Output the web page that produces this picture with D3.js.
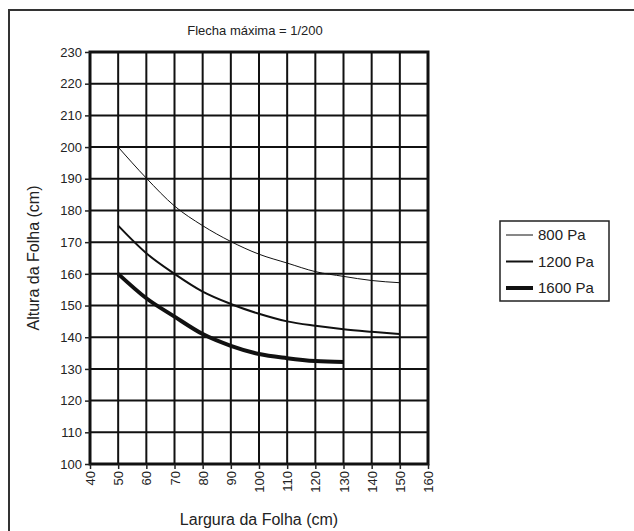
<!DOCTYPE html>
<html>
<head>
<meta charset="utf-8">
<script src="https://cdn.jsdelivr.net/npm/d3@7"></script>
<style>
  body { margin: 0; background: #fff; }
  text { font-family: "Liberation Sans", Arial, sans-serif; fill: #222; }
</style>
</head>
<body>
<div id="visualization"></div>
<script>
const widths = [50, 60, 70, 80, 90, 100, 110, 120, 130, 140, 150];
const pa800 = [200, 190.2, 181.4, 175.2, 170.2, 166.2, 163.4, 160.7, 159.2, 157.9, 157.2];
const pa1200 = [175.2, 166.5, 160, 154.4, 150.5, 147.4, 145, 143.6, 142.5, 141.7, 141];
const pa1600 = [160, 152.3, 146.5, 141, 137.3, 134.7, 133.4, 132.5, 132.2];
const seriesNames = ["800 Pa", "1200 Pa", "1600 Pa"];
const xTicks = [40, 50, 60, 70, 80, 90, 100, 110, 120, 130, 140, 150, 160];
const yTicks = [100, 110, 120, 130, 140, 150, 160, 170, 180, 190, 200, 210, 220, 230];

function buildChart() {
  const svgWidth = 634;
  const svgHeight = 531;

  const svg = d3
    .select("#visualization")
    .append("svg")
    .attr("width", svgWidth)
    .attr("height", svgHeight);

  // outer frame, only top and left edges fall inside the picture
  svg.append("rect")
    .attr("x", 9).attr("y", 10)
    .attr("width", 700).attr("height", 600)
    .attr("fill", "none")
    .attr("stroke", "#333")
    .attr("stroke-width", 2);

  const plot = { left: 90, right: 428, top: 52, bottom: 464 };

  const xScale = d3.scaleLinear().domain([40, 160]).range([plot.left, plot.right]);
  const yScale = d3.scaleLinear().domain([100, 230]).range([plot.bottom, plot.top]);

  // grid
  svg.append("g")
    .selectAll("line")
    .data(xTicks.slice(1, -1))
    .join("line")
    .attr("x1", d => xScale(d)).attr("x2", d => xScale(d))
    .attr("y1", plot.top).attr("y2", plot.bottom)
    .attr("stroke", "#111").attr("stroke-width", 2);

  svg.append("g")
    .selectAll("line")
    .data(yTicks.slice(1, -1))
    .join("line")
    .attr("x1", plot.left).attr("x2", plot.right)
    .attr("y1", d => yScale(d)).attr("y2", d => yScale(d))
    .attr("stroke", "#111").attr("stroke-width", 2);

  svg.append("rect")
    .attr("x", plot.left).attr("y", plot.top)
    .attr("width", plot.right - plot.left)
    .attr("height", plot.bottom - plot.top)
    .attr("fill", "none")
    .attr("stroke", "#111")
    .attr("stroke-width", 3);

  // axes
  const gy = svg.append("g")
    .attr("transform", `translate(${plot.left},0)`)
    .call(d3.axisLeft(yScale).tickValues(yTicks).tickSize(5).tickPadding(3));
  gy.select(".domain").remove();
  gy.selectAll(".tick line").attr("stroke", "#222").attr("stroke-width", 1.5);
  gy.selectAll(".tick text").style("font-size", "13px").attr("fill", "#222");

  const gx = svg.append("g")
    .attr("transform", `translate(0,${plot.bottom})`)
    .call(d3.axisBottom(xScale).tickValues(xTicks).tickSize(5));
  gx.select(".domain").remove();
  gx.selectAll(".tick line").attr("stroke", "#222").attr("stroke-width", 1.5);
  gx.selectAll(".tick text")
    .style("font-size", "13px")
    .attr("fill", "#222")
    .attr("text-anchor", "end")
    .attr("transform", "rotate(-90)")
    .attr("x", -7)
    .attr("y", 0)
    .attr("dy", "0.35em");

  // curves
  const line = d3.line()
    .x(d => xScale(d[0]))
    .y(d => yScale(d[1]))
    .curve(d3.curveMonotoneX);

  const series = [
    { name: seriesNames[0], values: pa800, w: 1 },
    { name: seriesNames[1], values: pa1200, w: 2 },
    { name: seriesNames[2], values: pa1600, w: 4 }
  ];

  svg.append("g")
    .selectAll("path")
    .data(series)
    .join("path")
    .attr("d", d => line(d.values.map((v, i) => [widths[i], v])))
    .attr("fill", "none")
    .attr("stroke", "#111")
    .attr("stroke-width", d => d.w);

  // titles
  svg.append("text")
    .attr("x", 255).attr("y", 35)
    .attr("text-anchor", "middle")
    .style("font-size", "13px")
    .text("Flecha máxima = 1/200");

  svg.append("text")
    .attr("x", 259).attr("y", 525)
    .attr("text-anchor", "middle")
    .style("font-size", "16px")
    .text("Largura da Folha (cm)");

  svg.append("text")
    .attr("transform", "translate(39,258) rotate(-90)")
    .attr("text-anchor", "middle")
    .style("font-size", "16px")
    .text("Altura da Folha (cm)");

  // legend
  const legend = svg.append("g");
  legend.append("rect")
    .attr("x", 500).attr("y", 221)
    .attr("width", 109).attr("height", 80)
    .attr("fill", "#fff")
    .attr("stroke", "#222")
    .attr("stroke-width", 1.5);

  const items = legend.selectAll("g")
    .data(series)
    .join("g")
    .attr("transform", (d, i) => `translate(0,${235 + i * 26.5})`);
  items.append("line")
    .attr("x1", 506).attr("x2", 533)
    .attr("stroke", "#111")
    .attr("stroke-width", d => d.w);
  items.append("text")
    .attr("x", 538).attr("dy", "0.35em")
    .style("font-size", "15px")
    .text(d => d.name);
}

buildChart();
</script>
</body>
</html>
